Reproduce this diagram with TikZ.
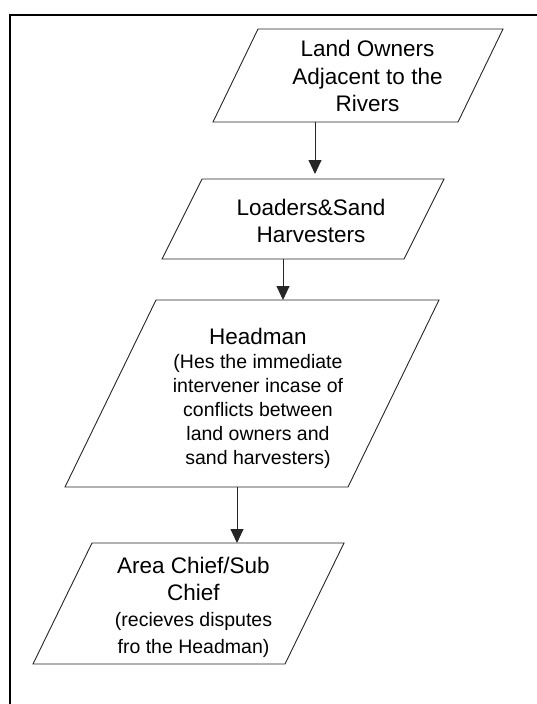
\documentclass[tikz,border=0pt]{standalone}
\usepackage{fontspec}
\setmainfont{Liberation Sans}
\usetikzlibrary{arrows.meta}
\begin{document}
\begin{tikzpicture}[x=1pt,y=-1pt,
  frame/.style={line width=2pt, black},
  boxline/.style={line width=0.9pt, black!85, line join=miter},
  flow/.style={line width=0.9pt, black!85, -{Triangle[length=14pt,width=13pt]}},
  slot/.style={draw=none, inner sep=0pt, outer sep=0pt},
  txt/.style={align=center, inner sep=0pt, text=black},
  big/.style={font=\fontsize{22.5}{27.5}\selectfont}]
\useasboundingbox (0,0) rectangle (537,704);

% page frame (open to the right and bottom)
\draw[frame] (540,15) -- (10,15) -- (10,710);

% slots holding each slanted box
\node[slot, minimum width=290pt, minimum height=93pt]  (b1) at (358,75.5)  {};
\node[slot, minimum width=282pt, minimum height=80pt]  (b2) at (303,219)   {};
\node[slot, minimum width=374pt, minimum height=187pt] (b3) at (252,393.5) {};
\node[slot, minimum width=311pt, minimum height=121pt] (b4) at (188.5,603.5) {};

% parallelograms
\draw[boxline] (b1.south west) -- ([xshift=-45pt]b1.south east) -- (b1.north east) -- ([xshift=45pt]b1.north west) -- cycle;
\draw[boxline] (b2.south west) -- ([xshift=-40pt]b2.south east) -- (b2.north east) -- ([xshift=40pt]b2.north west) -- cycle;
\draw[boxline] (b3.south west) -- ([xshift=-91pt]b3.south east) -- (b3.north east) -- ([xshift=91pt]b3.north west) -- cycle;
\draw[boxline] (b4.south west) -- ([xshift=-59pt]b4.south east) -- (b4.north east) -- ([xshift=59pt]b4.north west) -- cycle;

% labels
\node[txt, big] (t1) at (367.5,76) {Land Owners\\Adjacent to the\\Rivers};
\node[txt, big] (t2) at (311,221) {Loaders\&Sand\\Harvesters};
\node[txt, font=\fontsize{19.5}{24}\selectfont] (t3) at (258,398.5)
  {{\fontsize{22.5}{24}\selectfont Headman}\\(Hes the immediate\\intervener incase of\\conflicts between\\land owners and\\sand harvesters)};
\node[txt, font=\fontsize{19.5}{26.5}\selectfont] (t4) at (193.5,607.5)
  {{\fontsize{22.5}{26.5}\selectfont Area Chief/Sub}\\{\fontsize{22.5}{26.5}\selectfont Chief}\\(recieves disputes\\fro the Headman)};

% connectors
\coordinate (a1) at (315,0);
\coordinate (a2) at (283,0);
\coordinate (a3) at (237,0);
\draw[flow, shorten >=5pt] (b1.south -| a1) -- (b2.north -| a1);
\draw[flow] (b2.south -| a2) -- (b3.north -| a2);
\draw[flow] (b3.south -| a3) -- (b4.north -| a3);
\end{tikzpicture}
\end{document}
